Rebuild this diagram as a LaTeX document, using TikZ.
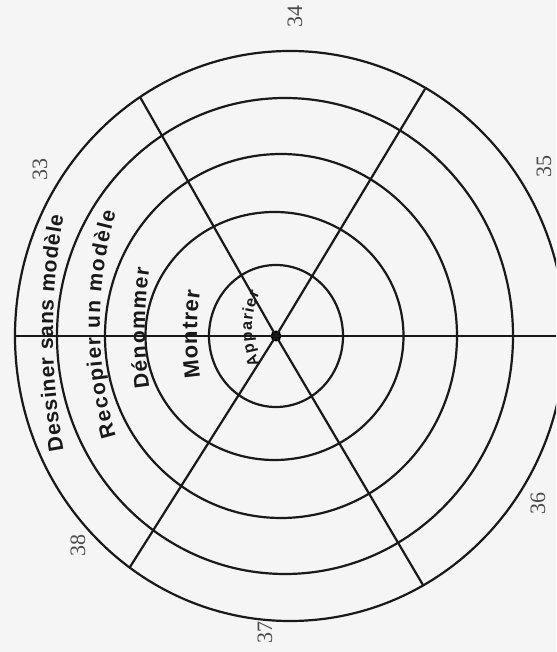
\documentclass[tikz,border=0pt]{standalone}
\usepackage{fontspec}
\setmainfont{Liberation Serif}
\newfontfamily\ringfont{Liberation Sans}
\newfontfamily\numfont{Liberation Serif}
\usetikzlibrary{decorations.text}

\begin{document}
\begin{tikzpicture}[x=0.5pt,y=0.5pt,
    ring/.style={line width=1.1pt,draw=black!90},
    ringtext/.style={decorate,decoration={text along path,text align={fit to path},text={#1}}},
    secnum/.style={rotate=90,inner sep=1pt,text=black!70,font=\numfont\fontsize{11}{13}\selectfont}]
    \fill[black!4] (-276,-316) rectangle (280,336);
    \useasboundingbox (-276,-316) rectangle (280,336);
    \clip (-276,-316) rectangle (280,336);
    \foreach \dx/\rx/\ry in {0/67/71,-1.5/129/124,5/176/182,9/228/238,14/275/285}
        \draw[ring] (\dx,0) ellipse[x radius=\rx,y radius=\ry];
    \node[circle,fill=black,inner sep=0pt,minimum size=5.5pt] (c) at (0,0) {};
    \coordinate (w) at (-261,0);
    \coordinate (e) at (292,0);
    \coordinate (nw) at (-136,239);
    \coordinate (ne) at (149,247);
    \coordinate (sw) at (-146,-231);
    \coordinate (se) at (147,-249);
    \foreach \p in {w,e,nw,ne,sw,se}
        \draw[ring] (c.center) -- (\p);
    \path[ringtext={|\ringfont\bfseries\fontsize{10.5}{12}\selectfont\color{black!90}|Dessiner sans modèle}]
        (427,3) ++(190.4:650) arc[start angle=190.4,end angle=169.6,radius=650];
    \path[ringtext={|\ringfont\bfseries\fontsize{10.5}{12}\selectfont\color{black!90}|Recopier un modèle}]
        (227,11.5) ++(196.2:403) arc[start angle=196.2,end angle=163.8,radius=403];
    \path[ringtext={|\ringfont\bfseries\fontsize{10.5}{12}\selectfont\color{black!90}|Dénommer}]
        (269,8) ++(188.6:400) arc[start angle=188.6,end angle=171.4,radius=400];
    \path[ringtext={|\ringfont\bfseries\fontsize{11}{13}\selectfont\color{black!90}|Montrer}]
        (221,2) ++(188.3:300) arc[start angle=188.3,end angle=171.7,radius=300];
    \path[ringtext={|\ringfont\bfseries\fontsize{8}{10}\selectfont\color{black!90}|Apparier}]
        (62,7.5) ++(204.5:86) arc[start angle=204.5,end angle=155.5,radius=86];
    \node[secnum] (n33) at (-236,166) {33};
    \node[secnum] (n34) at (19,319) {34};
    \node[secnum] (n35) at (268,169) {35};
    \node[secnum] (n36) at (262,-167) {36};
    \node[secnum] (n37) at (-11,-296) {37};
    \node[secnum] (n38) at (-198,-209) {38};
\end{tikzpicture}
\end{document}
